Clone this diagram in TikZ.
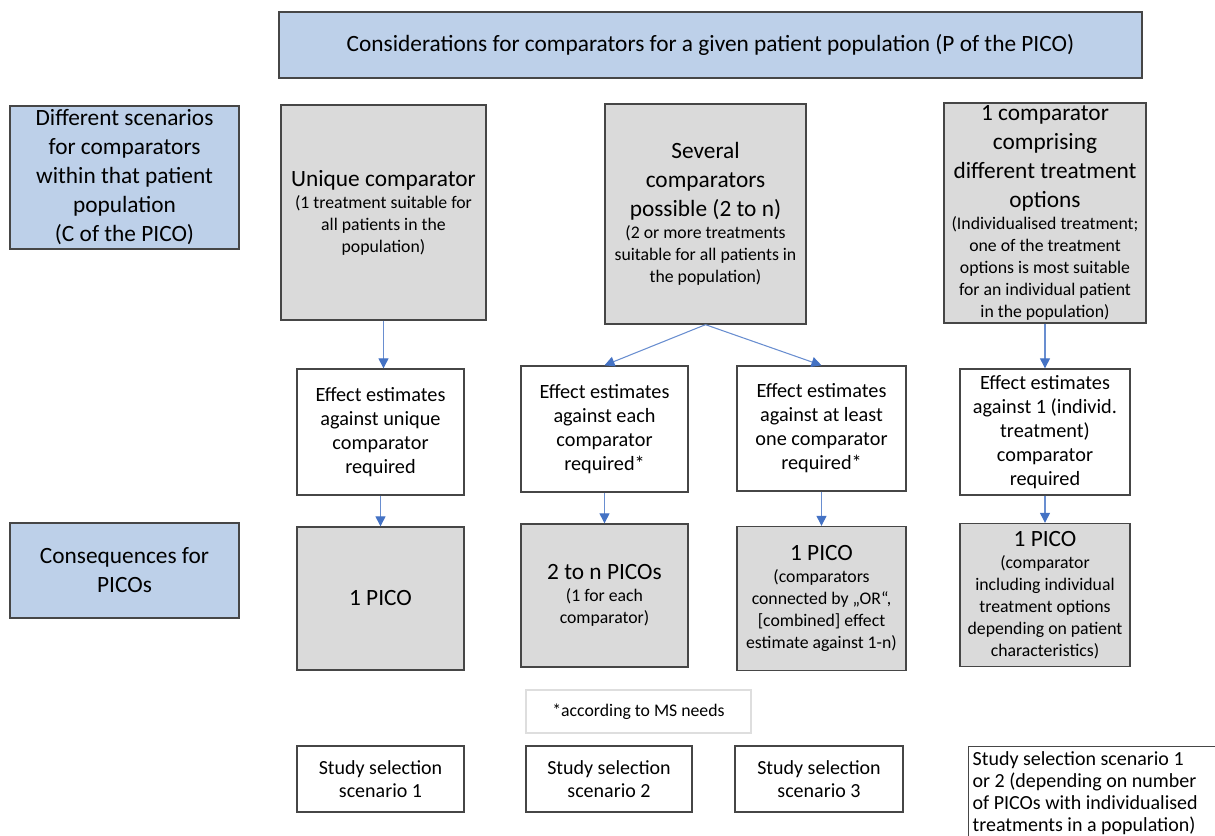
\documentclass[tikz,border=0pt]{standalone}
\usepackage{fontspec}
\setmainfont{Carlito}
\usepackage{tikz}
\usetikzlibrary{shapes,arrows.meta,positioning}

\definecolor{boxblue}{RGB}{189,208,233}
\definecolor{boxgray}{RGB}{218,218,218}
\definecolor{edgegray}{RGB}{70,70,70}
\definecolor{notegray}{RGB}{222,222,222}
\definecolor{arrowblue}{RGB}{68,114,196}

\newcommand{\headfont}{\fontsize{17.5}{21.75}\selectfont}
\newcommand{\subfont}{\fontsize{13.3}{16.5}\selectfont}
\newcommand{\effectfont}{\fontsize{15.2}{18}\selectfont}
\newcommand{\studyfont}{\fontsize{15}{17.25}\selectfont}
\newcommand{\notefont}{\fontsize{13.3}{16}\selectfont}

\begin{document}
\begin{tikzpicture}[x=0.75pt,y=-0.75pt]
    \tikzset{
        bluebox/.style      =   { rectangle
                                , draw=edgegray
                                , line width=1pt
                                , fill=boxblue
                                , align=flush center
                                , inner sep=0pt
                                }
        , graybox/.style    =   { rectangle
                                , draw=edgegray
                                , line width=1pt
                                , fill=boxgray
                                , align=flush center
                                , inner sep=0pt
                                }
        , whitebox/.style   =   { rectangle
                                , draw=edgegray
                                , line width=1pt
                                , fill=white
                                , align=flush center
                                , inner sep=0pt
                                }
        , notebox/.style    =   { rectangle
                                , draw=notegray
                                , line width=0.8pt
                                , align=flush center
                                , inner sep=0pt
                                }
        , arrow/.style      =   { draw=arrowblue!80
                                , line width=0.8pt
                                , -{Triangle[length=7.5pt,width=7.5pt,color=arrowblue]}
                                }
    }
    \useasboundingbox (0,0) rectangle (1215,836);

    % header and row labels
    \node(title)[bluebox, minimum width=647.25pt, minimum height=49.5pt, font=\headfont] at (710.5,45)
        {Considerations for comparators for a given patient population (P of the PICO)};
    \node(scen)[bluebox, minimum width=171.75pt, minimum height=107.25pt, text width=168pt, font=\headfont] at (124.5,177.5)
        {Different scenarios\\ for comparators\\ within that patient\\ population\\ (C of the PICO)};
    \node(cons)[bluebox, minimum width=171.75pt, minimum height=71.25pt, text width=168pt, font=\headfont] at (124.5,570.5)
        {Consequences for\\ PICOs};

    % scenarios
    \node(uniq)[graybox, minimum width=153.75pt, minimum height=161.25pt, text width=150pt, font=\headfont] at (383.5,212.5)
        {Unique comparator\par\subfont (1 treatment suitable for\\ all patients in the\\ population)\par};
    \node(sev)[graybox, minimum width=150.75pt, minimum height=165pt, text width=148pt, font=\headfont] at (705.5,214)
        {Several\\ comparators\\ possible (2 to n)\par\subfont (2 or more treatments\\ suitable for all patients in\\ the population)\par};
    \node(indiv)[graybox, minimum width=151.5pt, minimum height=165pt, text width=149pt, font=\headfont] at (1045,213)
        {1 comparator\\ comprising\\ different treatment\\ options\par\subfont (Individualised treatment;\\ one of the treatment\\ options is most suitable\\ for an individual patient\\ in the population)\par};

    % effect estimates
    \node(e1)[whitebox, minimum width=125.25pt, minimum height=94.5pt, text width=122pt, font=\effectfont] at (380.5,432)
        {Effect estimates\\ against unique\\ comparator\\ required};
    \node(e2)[whitebox, minimum width=125.25pt, minimum height=94.5pt, text width=122pt, font=\effectfont] at (604.5,429)
        {Effect estimates\\ against each\\ comparator\\ required*};
    \node(e3)[whitebox, minimum width=126.75pt, minimum height=93.75pt, text width=124pt, font=\effectfont] at (821.5,428.5)
        {Effect estimates\\ against at least\\ one comparator\\ required*};
    \node(e4)[whitebox, minimum width=127.5pt, minimum height=94.5pt, text width=125pt, font=\effectfont] at (1045,432)
        {Effect estimates\\ against 1 (individ.\\ treatment)\\ comparator\\ required};

    % consequences
    \node(p1)[graybox, minimum width=125.25pt, minimum height=107.25pt, text width=122pt, font=\headfont] at (380.5,598.5)
        {1 PICO};
    \node(p2)[graybox, minimum width=125.25pt, minimum height=107.25pt, text width=122pt, font=\headfont] at (604.5,595.5)
        {2 to n PICOs\par\subfont (1 for each\\ comparator)\par};
    \node(p3)[graybox, minimum width=126.75pt, minimum height=108pt, text width=124pt, font=\headfont] at (821.5,598.5)
        {1 PICO\par\subfont (comparators\\ connected by „OR“,\\ {[}combined{]} effect\\ estimate against 1-n)\par};
    \node(p4)[graybox, minimum width=127.5pt, minimum height=107.25pt, text width=125pt, font=\headfont] at (1045,595)
        {1 PICO\par\subfont (comparator\\ including individual\\ treatment options\\ depending on patient\\ characteristics)\par};

    \node(note)[notebox, minimum width=168.75pt, minimum height=32.25pt, font=\notefont] at (638.5,711.5)
        {*according to MS needs};

    % study selection
    \node(s1)[whitebox, minimum width=125.25pt, minimum height=49.5pt, font=\studyfont] at (380.5,779)
        {Study selection\\ scenario 1};
    \node(s2)[whitebox, minimum width=124.5pt, minimum height=49.5pt, font=\studyfont] at (609,779)
        {Study selection\\ scenario 2};
    \node(s3)[whitebox, minimum width=126pt, minimum height=49.5pt, font=\studyfont] at (819,779)
        {Study selection\\ scenario 3};
    \node(s4)[whitebox, anchor=north west, minimum width=192pt, text width=186pt, text depth=64pt,
              align=flush left, inner xsep=3pt, inner ysep=3.75pt,
              font={\fontsize{15}{16.5}\selectfont}] at (968,746)
        {Study selection scenario 1\\ or 2 (depending on number\\ of PICOs with individualised\\ treatments in a population)};

    \draw[arrow] (uniq.south) -- (uniq.south |- e1.north);
    \draw[arrow] (sev.south) -- (e2.north);
    \draw[arrow] (sev.south) -- (e3.north);
    \draw[arrow] (indiv.south) -- (e4.north);
    \draw[arrow] (e1) -- (p1);
    \draw[arrow] (e2) -- (p2);
    \draw[arrow] (e3) -- (p3);
    \draw[arrow] (e4) -- (p4);
\end{tikzpicture}
\end{document}
